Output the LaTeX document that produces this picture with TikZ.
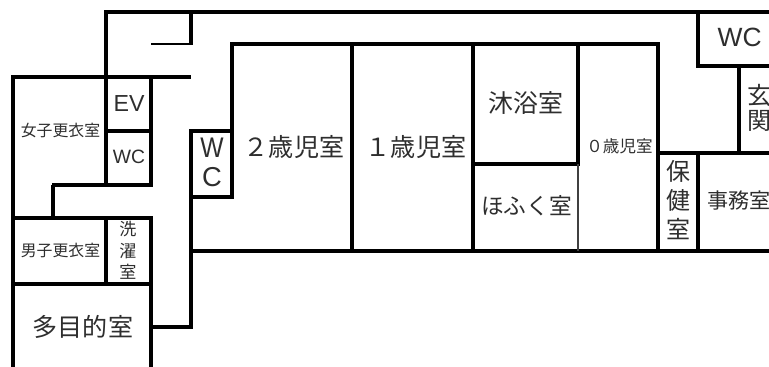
\documentclass[tikz,border=0pt]{standalone}
\usepackage{fontspec}
\newfontfamily\jpfont{Noto Sans CJK JP}
\newfontfamily\latinfont{Liberation Sans}
\tikzset{
  wall/.style={draw=black,line width=3pt,line cap=butt,line join=miter},
  thinwall/.style={draw=black,line width=1.5pt},
  hairwall/.style={draw=black!75,line width=0.8pt},
  room/.style={inner sep=0pt,outer sep=0pt,text=black!82,align=center,font=\jpfont},
  latinroom/.style={room,font=\latinfont},
}
\newcommand{\px}[1]{\fontsize{#1}{#1}\selectfont}
\begin{document}
\begin{tikzpicture}[x=0.75pt,y=-0.75pt]
\useasboundingbox (0,0) rectangle (769,367);
\clip (0,0) rectangle (769,367);
% labels
\node[room] (joshi) at (60.5,131) {\px{11.9}女子更衣室};
\node[latinroom] (ev) at (129,104) {\px{17.4}EV};
\node[latinroom] (wca) at (129,157) {\px{14.5}WC};
\node[latinroom,yscale=1.15] (wcb1) at (212,148) {\px{18.5}W};
\node[latinroom] (wcb2) at (212,177) {\px{20.5}C};
\node[room] (two) at (294,147) {\px{18.8}２歳児室};
\node[room] (one) at (416,147) {\px{18.8}１歳児室};
\node[room] (bath) at (526,103) {\px{18.7}沐浴室};
\node[room] (fuku) at (526.5,206) {\px{17}ほふく室};
\node[room] (zero) at (619.5,146) {\px{12.4}０歳児室};
\node[room] (ho) at (678,171) {\px{18}保};
\node[room] (ken) at (678,200) {\px{18}健};
\node[room] (shitsua) at (678,229) {\px{18}室};
\node[room,anchor=west] (jimu) at (707,201) {\px{15.8}事務室};
\node[room,anchor=west] (gen) at (747,95) {\px{18}玄};
\node[room,anchor=west] (kan) at (747,121) {\px{18}関};
\node[latinroom] (wcc) at (739.7,37) {\px{19.8}WC};
\node[room] (danshi) at (60.5,250) {\px{11.9}男子更衣室};
\node[room] (sen) at (128,229) {\px{12.8}洗};
\node[room] (taku) at (128,251) {\px{12.8}濯};
\node[room] (shitsub) at (128,272) {\px{12.8}室};
\node[room] (tamoku) at (83,327) {\px{18.8}多目的室};
% walls
\draw[wall] (106,77) -- (106,10);
\draw[wall] (104,12) -- (769,12);
\draw[wall] (191,12) -- (191,44);
\draw[thinwall] (151,44) -- (193,44);
\draw[wall] (11,77) -- (191,77);
\draw[wall] (13,77) -- (13,367);
\draw[wall] (106,77) -- (106,185);
\draw[wall] (151,77) -- (151,187);
\draw[wall] (106,131) -- (153,131);
\draw[wall] (52,185) -- (153,185);
\draw[wall] (53,185) -- (53,218);
\draw[wall] (13,218) -- (153,218);
\draw[wall] (13,284) -- (153,284);
\draw[wall] (106,218) -- (106,284);
\draw[wall] (151,218) -- (151,367);
\draw[wall] (151,327) -- (193,327);
\draw[wall] (191,329) -- (191,129);
\draw[wall] (191,131) -- (234,131);
\draw[wall] (191,197) -- (234,197);
\draw[wall] (232,199) -- (232,42.5);
\draw[wall] (230,44) -- (660,44);
\draw[wall] (191,251) -- (769,251);
\draw[wall] (352,44) -- (352,253);
\draw[wall] (473,44) -- (473,253);
\draw[wall] (578,44) -- (578,165);
\draw[wall] (473,164) -- (580,164);
\draw[hairwall] (578,164) -- (578,251);
\draw[wall] (658,44) -- (658,253);
\draw[wall] (658,153) -- (769,153);
\draw[wall] (698,12) -- (698,68);
\draw[wall] (698,66) -- (769,66);
\draw[wall] (739,66) -- (739,155);
\draw[wall] (698,153) -- (698,253);
\end{tikzpicture}
\end{document}
